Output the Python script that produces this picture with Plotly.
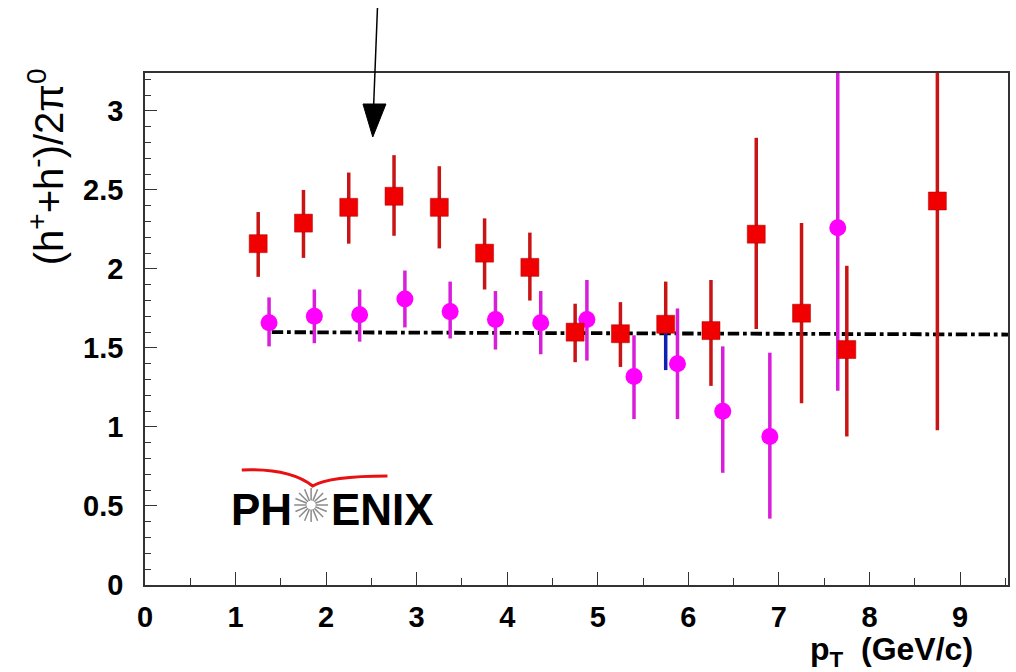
import numpy as np
import plotly.graph_objects as go

# ---- data ----
red_x = [1.25, 1.75, 2.25, 2.75, 3.25, 3.75, 4.25, 4.75, 5.25, 5.75, 6.25, 6.75, 7.25, 7.75, 8.75]
red_y = [2.16, 2.29, 2.39, 2.46, 2.39, 2.10, 2.01, 1.60, 1.59, 1.65, 1.61, 2.22, 1.72, 1.49, 2.43]
red_up = [0.20, 0.21, 0.22, 0.26, 0.26, 0.22, 0.22, 0.18, 0.20, 0.27, 0.32, 0.61, 0.57, 0.53, 1.45]
red_dn = [0.21, 0.22, 0.23, 0.25, 0.26, 0.23, 0.21, 0.19, 0.21, 0.00, 0.35, 0.60, 0.57, 0.55, 1.45]

blue_x = [5.75]
blue_y = [1.65]
blue_dn = [0.29]

pink_x = [1.37, 1.87, 2.37, 2.87, 3.37, 3.87, 4.37, 4.88, 5.40, 5.88, 6.38, 6.90, 7.65]
pink_y = [1.66, 1.70, 1.71, 1.81, 1.73, 1.68, 1.66, 1.68, 1.32, 1.40, 1.10, 0.94, 2.26]
pink_up = [0.16, 0.17, 0.16, 0.18, 0.19, 0.18, 0.20, 0.25, 0.26, 0.35, 0.41, 0.53, 1.03]
pink_dn = [0.15, 0.17, 0.17, 0.18, 0.17, 0.19, 0.20, 0.26, 0.27, 0.35, 0.39, 0.52, 1.03]

fit_x = [1.40, 9.53]
fit_y = [1.600, 1.585]

x_range = [0, 9.53]
y_range = [0, 3.24]

# ---- layout geometry (pixels) ----
W, H = 1016, 672
L, R, T, B = 145, 1010, 73, 585


def px(x):
    return (x - L) / (R - L)


def py(y):
    return (B - y) / (B - T)


FONT = "Liberation Sans, Arial, sans-serif"

fig = go.Figure()

fig.add_trace(go.Scatter(
    x=fit_x, y=fit_y, mode="lines",
    line=dict(color="black", width=3.8, dash="dashdot"),
    showlegend=False, hoverinfo="skip"))

fig.add_trace(go.Scatter(
    x=blue_x, y=blue_y, mode="markers",
    marker=dict(size=1, opacity=0),
    error_y=dict(type="data", symmetric=False, array=[0], arrayminus=blue_dn,
                 color="#1020b0", thickness=3.5, width=0),
    showlegend=False))

fig.add_trace(go.Scatter(
    x=pink_x, y=pink_y, mode="markers",
    marker=dict(symbol="circle", size=17, color="#ff00ff", line=dict(width=0)),
    error_y=dict(type="data", symmetric=False, array=pink_up, arrayminus=pink_dn,
                 color="#d81ed8", thickness=3.5, width=0),
    showlegend=False))

fig.add_trace(go.Scatter(
    x=red_x, y=red_y, mode="markers",
    marker=dict(symbol="square", size=18, color="#f00000", line=dict(width=0.5, color="#b00000")),
    error_y=dict(type="data", symmetric=False, array=red_up, arrayminus=red_dn,
                 color="#c81414", thickness=3.5, width=0),
    showlegend=False))

shapes = []
annotations = []

# arrow
shapes.append(dict(type="line", xref="paper", yref="paper",
                   x0=px(378), y0=py(8), x1=px(374), y1=py(110),
                   line=dict(color="black", width=1.5)))
shapes.append(dict(type="path", xref="paper", yref="paper",
                   path=f"M {px(363.5)} {py(104)} L {px(386.5)} {py(104)} L {px(373.3)} {py(137)} Z",
                   fillcolor="black", line=dict(color="black", width=1)))

# PHENIX logo
cx, cy = 311.5, 505
for k in range(16):
    a = np.pi * k / 8
    shapes.append(dict(type="line", xref="paper", yref="paper",
                       x0=px(cx + 4.5 * np.cos(a)), y0=py(cy + 4.5 * np.sin(a)),
                       x1=px(cx + 17 * np.cos(a)), y1=py(cy + 17 * np.sin(a)),
                       line=dict(color="#8a8a8a", width=1.5)))
shapes.append(dict(type="path", xref="paper", yref="paper",
                   path=(f"M {px(242)} {py(470)} Q {px(290)} {py(468)} {px(313)} {py(486)} "
                         f"Q {px(330)} {py(476)} {px(388)} {py(476)}"),
                   line=dict(color="#e81010", width=3)))
annotations.append(dict(xref="paper", yref="paper", x=px(262), y=py(509), text="<b>PH</b>",
                        showarrow=False, font=dict(family=FONT, size=44, color="black"),
                        xanchor="center", yanchor="middle"))
annotations.append(dict(xref="paper", yref="paper", x=px(383), y=py(509), text="<b>ENIX</b>",
                        showarrow=False, font=dict(family=FONT, size=44, color="black"),
                        xanchor="center", yanchor="middle"))

# axis titles
annotations.append(dict(xref="paper", yref="paper", x=px(46), y=py(167),
                        text="(h<sup>+</sup>+h<sup>-</sup>)/2π<sup>0</sup>",
                        textangle=-90, showarrow=False,
                        font=dict(family=FONT, size=40, color="black"),
                        xanchor="center", yanchor="middle"))
annotations.append(dict(xref="paper", yref="paper", x=px(977), y=py(651),
                        text="<b>p<sub>T</sub>  (GeV/c)</b>", showarrow=False,
                        font=dict(family=FONT, size=32, color="black"),
                        xanchor="right", yanchor="middle"))

axis_common = dict(showgrid=False, zeroline=False, showline=True, linecolor="#333333",
                   linewidth=1.5, mirror=True, ticks="inside", tickcolor="#333333",
                   tickwidth=1.2,
                   tickfont=dict(family=FONT, size=29, color="black", weight="bold"))

fig.update_layout(
    width=W, height=H,
    margin=dict(l=L, r=W - R, t=T, b=H - B, pad=0),
    paper_bgcolor="white", plot_bgcolor="white",
    xaxis=dict(range=x_range, dtick=1, tick0=0, ticklen=13,
               minor=dict(dtick=0.5, ticklen=7, ticks="inside", tickcolor="#333333"),
               ticklabelstandoff=5, **axis_common),
    yaxis=dict(range=y_range, dtick=0.5, tick0=0, ticklen=12,
               minor=dict(dtick=0.1, ticklen=6, ticks="inside", tickcolor="#333333"),
               ticklabelstandoff=14, **axis_common),
    shapes=shapes,
    annotations=annotations,
)

fig.write_html("out.html")
